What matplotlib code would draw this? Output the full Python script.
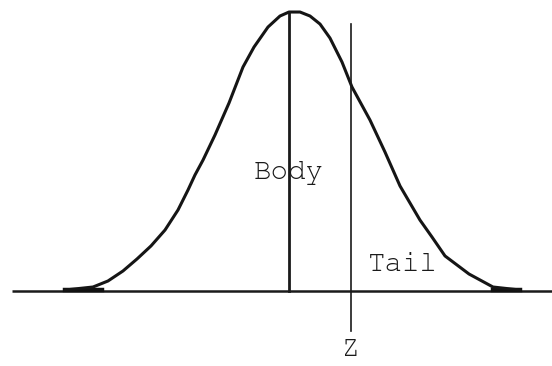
import matplotlib
matplotlib.use("Agg")
import matplotlib.pyplot as plt

# bell curve traced as (z score, height) pairs, left tail to right tail
curve_z = [-3.111, -2.722, -2.514, -2.306, -2.111, -1.917, -1.722, -1.542, -1.403,
           -1.306, -1.194, -1.028, -0.833, -0.639, -0.486, -0.292, -0.125, 0.0,
           0.153, 0.292, 0.431, 0.569, 0.736, 0.875, 1.125, 1.333, 1.542, 1.819,
           1.986, 2.167, 2.500, 2.833, 3.208]
curve_h = [0.0014, 0.0057, 0.0143, 0.0286, 0.0458, 0.0644, 0.0872, 0.1158, 0.1444,
           0.1659, 0.1873, 0.2231, 0.2689, 0.3203, 0.3489, 0.3775, 0.3933, 0.399,
           0.399, 0.3933, 0.3818, 0.3618, 0.3275, 0.2917, 0.2445, 0.1988, 0.1502,
           0.1015, 0.0772, 0.0501, 0.0243, 0.0057, 0.0014]

mean_z = 0.0
peak_h = 0.399
cut_z = 0.86
labels = ["Body", "Tail", "Z"]
label_z = [0.0, 1.58, 0.86]
label_h = [0.169, 0.037, -0.084]

fig = plt.figure(figsize=(5.52, 3.66), dpi=100)
ax = fig.add_axes([0, 0, 1, 1])
ax.set_xlim(-4.014, 3.653)
ax.set_ylim(-0.1073, 0.4162)
ax.axis("off")

# horizontal axis
ax.plot([-3.85, 3.653], [0, 0], color="#1a1a1a", lw=1.8, solid_capstyle="butt")
# thick feet where the curve meets the axis
ax.plot([-3.11, -2.6], [0.001, 0.001], color="#111111", lw=3.2)
ax.plot([2.83, 3.21], [0.001, 0.001], color="#111111", lw=3.2)

ax.plot(curve_z, curve_h, color="#151515", lw=2.2, solid_joinstyle="round")

# mean line and the z cut-off line
ax.plot([mean_z, mean_z], [0, peak_h], color="#1a1a1a", lw=2.0)
ax.plot([cut_z, cut_z], [-0.057, 0.382], color="#1a1a1a", lw=1.2)

font = ["FreeMono", "Nimbus Mono PS", "Courier New", "Liberation Mono"]
for txt, x, y in zip(labels, label_z, label_h):
    ax.text(x, y, txt, ha="center", va="center", fontsize=21,
            family=font, color="#1a1a1a")

fig.savefig("out.png", dpi=100, facecolor="white")
